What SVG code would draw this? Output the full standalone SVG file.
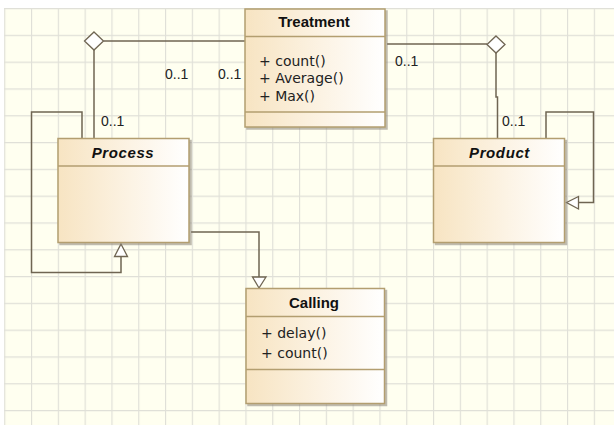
<svg xmlns="http://www.w3.org/2000/svg" width="614" height="425" viewBox="0 0 614 425">
  <defs>
    <linearGradient id="classFill" x1="0" y1="0" x2="1" y2="0">
      <stop offset="0" stop-color="#f7e4c2"/>
      <stop offset="0.55" stop-color="#fcf3e4"/>
      <stop offset="1" stop-color="#ffffff"/>
    </linearGradient>
    <pattern id="grid" x="4.2" y="8" width="26.8" height="26.8" patternUnits="userSpaceOnUse">
      <path d="M0 0.5H26.8M0.5 0V26.8" fill="none" stroke="#e0e0d8" stroke-width="1.3"/>
    </pattern>
    <filter id="shadow" x="-10%" y="-10%" width="130%" height="130%">
      <feDropShadow dx="2" dy="2" stdDeviation="0.6" flood-color="#8a8478" flood-opacity="0.55"/>
    </filter>
  </defs>
  <style>
    .box { fill: url(#classFill); stroke: #b39e70; stroke-width: 1.5; filter: url(#shadow); }
    .div { stroke: #b39e70; stroke-width: 1.5; fill: none; }
    .title { font-family: "Liberation Sans", Arial, sans-serif; font-size: 15px; font-weight: bold; fill: #111; text-anchor: middle; }
    .abstract { font-style: italic; letter-spacing: 0.6px; }
    .op { font-family: "DejaVu Sans", Verdana, sans-serif; font-size: 14px; fill: #222; }
    .mult { font-family: "Liberation Sans", Arial, sans-serif; font-size: 14px; fill: #222; }
    .edge { fill: none; stroke: #6f6552; stroke-width: 1.5; }
    .head { fill: #ffffff; stroke: #6f6552; stroke-width: 1.3; }
  </style>

  <!-- canvas -->
  <rect x="0" y="0" width="614" height="425" fill="#ffffff"/>
  <rect x="4" y="8" width="610" height="417" fill="#fffff0"/>
  <rect x="4" y="8" width="610" height="417" fill="url(#grid)"/>

  <!-- connectors -->
  <g id="connectors">
    <!-- Treatment to Process aggregation -->
    <path class="edge" d="M103.5 41H245"/>
    <path class="edge" d="M94 50V138"/>
    <polygon class="head" points="94,32 103.5,41 94,50 84.5,41"/>
    <!-- Treatment to Product aggregation -->
    <path class="edge" d="M387 44H487"/>
    <path class="edge" d="M496 53V97H497.5V138"/>
    <polygon class="head" points="496,36 505,44.5 496,53 487,44.5"/>
    <!-- Process self generalization -->
    <path class="edge" d="M82 138V112H31.5V272.5H121V257"/>
    <polygon class="head" points="121,244 127.5,256.5 114.5,256.5"/>
    <!-- Product self generalization -->
    <path class="edge" d="M546 138V112H593.5V202.5H578.5"/>
    <polygon class="head" points="566.5,202.5 578.5,196.5 578.5,209"/>
    <!-- Process to Calling generalization -->
    <path class="edge" d="M191 232H259V277"/>
    <polygon class="head" points="259,288 252.5,277 266,277"/>
    <!-- multiplicities -->
    <text class="mult" x="165" y="78.5">0..1</text>
    <text class="mult" x="218" y="78.5">0..1</text>
    <text class="mult" x="101" y="126">0..1</text>
    <text class="mult" x="395" y="66">0..1</text>
    <text class="mult" x="502" y="126">0..1</text>
  </g>

  <!-- Treatment -->
  <g id="treatment">
    <rect class="box" x="245" y="9" width="140" height="118"/>
    <path class="div" d="M245 36.5H385M245 112H385"/>
    <text class="title" x="314" y="26.5">Treatment</text>
    <text class="op" x="259" y="66">+ count()</text>
    <text class="op" x="259" y="83">+ Average()</text>
    <text class="op" x="259" y="100.5">+ Max()</text>
  </g>

  <!-- Process -->
  <g id="process">
    <rect class="box" x="58" y="138.5" width="131" height="104"/>
    <path class="div" d="M58 166H189"/>
    <text class="title abstract" x="123" y="158">Process</text>
  </g>

  <!-- Product -->
  <g id="product">
    <rect class="box" x="433.5" y="138.5" width="131" height="104"/>
    <path class="div" d="M433.5 166H564.5"/>
    <text class="title abstract" x="499.5" y="158">Product</text>
  </g>

  <!-- Calling -->
  <g id="calling">
    <rect class="box" x="246" y="288.5" width="138.5" height="115"/>
    <path class="div" d="M246 316.5H384.5M246 369.5H384.5"/>
    <text class="title" x="314" y="307.5">Calling</text>
    <text class="op" x="261" y="337.5">+ delay()</text>
    <text class="op" x="261" y="358">+ count()</text>
  </g>
</svg>
